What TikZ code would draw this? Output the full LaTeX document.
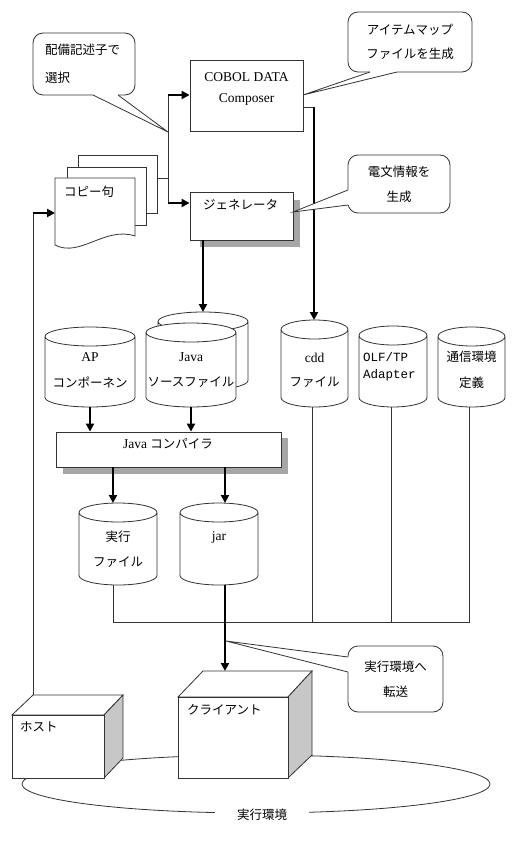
\documentclass[tikz,border=0pt]{standalone}
\usepackage{fontspec}
\setmainfont{Liberation Serif}
\newfontfamily\jp{Noto Sans CJK JP}
\newfontfamily\monof{Liberation Mono}
\usetikzlibrary{arrows.meta,calc}

\newcommand\cylshape[1]{%
  \draw[line, fill=white] let \p1=(#1.north west), \p2=(#1.south east), \n1={(\x2-\x1)/2} in
   (\x1,\y1-9.5pt) -- (\x1,\y2+9.5pt) arc[start angle=180, end angle=360, x radius={\n1*1pt}, y radius=9.5pt]
   -- (\x2,\y1-9.5pt) arc[start angle=0, end angle=180, x radius={\n1*1pt}, y radius=9.5pt] -- cycle
   (\x1,\y1-9.5pt) arc[start angle=180, end angle=360, x radius={\n1*1pt}, y radius=9.5pt];
}
\newcommand\calloutptr[4]{%
  \fill[white] ($#1+#4$) -- #1 -- #3 -- #2 -- ($#2+#4$) -- cycle;
  \draw[line] #1 -- #3 -- #2;
}

\begin{document}
\begin{tikzpicture}[x=1pt,y=-1pt,
  line/.style={line width=0.8pt, draw=black!80},
  thickarrow/.style={line width=2pt, draw=black, -{Triangle[length=8pt,width=8pt]}},
  box/.style={draw=black!80, line width=0.8pt, fill=white, inner sep=0pt},
  callout/.style={draw=black!80, line width=0.8pt, fill=white, rounded corners=10pt, inner sep=0pt},
  cylnode/.style={inner sep=0pt, outer sep=0pt},
  jtext/.style={font=\jp\fontsize{12.5}{25}\selectfont, inner sep=0pt, align=center},
  ltext/.style={font=\fontsize{13.5}{21}\selectfont, inner sep=0pt, align=center},
  mtext/.style={font=\monof\fontsize{12.5}{17}\selectfont, inner sep=0pt, align=left},
  shadowfill/.style={fill=black!35},
  sideface/.style={fill=black!22, draw=black!80, line width=0.8pt},
  topface/.style={fill=white, draw=black!80, line width=0.8pt}
]
\useasboundingbox (0,0) rectangle (527,850);

% ---------- execution environment ----------
\draw[line] (256,784) ellipse [x radius=234pt, y radius=29pt];
\node[jtext, fill=white, inner xsep=22pt, inner ysep=3pt] (env) at (262,815) {実行環境};

% host box
\draw[topface] (12,715) -- (33,695) -- (123,695) -- (104,715) -- cycle;
\draw[sideface] (104,715) -- (123,695) -- (123,758) -- (104,778) -- cycle;
\node[box, minimum width=92pt, minimum height=63pt] (host) at (58,746.5) {};
\node[jtext, anchor=west] (host-t) at (20,727) {ホスト};
\coordinate (hostTop) at (33,695);

% client box
\draw[topface] (178,697) -- (203,671) -- (312,671) -- (288,697) -- cycle;
\draw[sideface] (288,697) -- (312,671) -- (312,755) -- (288,778) -- cycle;
\node[box, minimum width=110pt, minimum height=81pt] (client) at (233,737.5) {};
\node[jtext, anchor=west] (client-t) at (187,710) {クライアント};
\coordinate (clientTop) at (225,671);

% ---------- copy document stack ----------
\node[box, minimum width=79pt, minimum height=58pt] (copyback) at (117.5,184) {};
\node[box, minimum width=79pt, minimum height=58pt] (copymid) at (106.5,196) {};
\draw[line, fill=white] (55,178) -- (135,178) -- (135,236) .. controls (105,226) and (80,258) .. (55,245) -- cycle;
\node[cylnode, minimum width=80pt, minimum height=67pt] (copy) at (95,211.5) {};
\node[jtext] (copy-t) at (89,192) {コピー句};

% ---------- COBOL DATA Composer ----------
\node[box, minimum width=113pt, minimum height=71pt] (cobol) at (246.5,95.5) {};
\node[ltext] (cobol-t) at (246.5,88.5) {COBOL DATA\\Composer};

% ---------- generator ----------
\fill[shadowfill] (200,200) rectangle (300,247);
\node[box, minimum width=103pt, minimum height=48pt] (gen) at (241.5,216) {};
\node[jtext, anchor=west] (gen-t) at (203,205) {ジェネレータ};

% ---------- cylinders ----------
\node[cylnode, minimum width=90pt, minimum height=80pt] (ap) at (90,367) {};
\cylshape{ap}
\node[ltext] (ap-1) at (90,357) {AP};
\node[jtext] (ap-2) at (90,382) {コンポーネン};

\node[cylnode, minimum width=90pt, minimum height=78pt] (javab) at (203,351) {};
\cylshape{javab}
\node[cylnode, minimum width=90pt, minimum height=84pt] (javaf) at (191,365) {};
\cylshape{javaf}
\node[ltext] (javaf-1) at (191,357) {Java};
\node[jtext] (javaf-2) at (191,382) {ソースファイル};

\node[cylnode, minimum width=67pt, minimum height=87pt] (cdd) at (314.5,363.5) {};
\cylshape{cdd}
\node[ltext] (cdd-1) at (314.5,358) {cdd};
\node[jtext] (cdd-2) at (314.5,382) {ファイル};

\node[cylnode, minimum width=68pt, minimum height=81pt] (olf) at (393,366.5) {};
\cylshape{olf}
\node[mtext, anchor=west] (olf-t) at (363,366.5) {OLF/TP\\Adapter};

\node[cylnode, minimum width=67pt, minimum height=80pt] (tsu) at (471.5,367) {};
\cylshape{tsu}
\node[jtext] (tsu-1) at (471.5,357) {通信環境};
\node[jtext] (tsu-2) at (471.5,383) {定義};

% ---------- Java compiler ----------
\fill[shadowfill] (63,438) rectangle (288,474);
\node[box, minimum width=225pt, minimum height=35pt] (comp) at (168.5,449.5) {};
\node[ltext] (comp-t) at (168,444) {Java {\jp\fontsize{12.5}{25}\selectfont コンパイラ}};

\node[cylnode, minimum width=78pt, minimum height=82pt] (jikkou) at (118,544) {};
\cylshape{jikkou}
\node[jtext] (jikkou-1) at (118,537) {実行};
\node[jtext] (jikkou-2) at (118,562) {ファイル};

\node[cylnode, minimum width=78pt, minimum height=82pt] (jar) at (219,544) {};
\cylshape{jar}
\node[ltext] (jar-t) at (219,537) {jar};

% ---------- connectors ----------
\coordinate (leftTurn) at (33,213);
\draw[line] (hostTop) -- (leftTurn);
\draw[thickarrow] (leftTurn) -- (leftTurn -| copy.west);

\coordinate (branch) at (168,178);
\coordinate (brTop) at (168,95);
\coordinate (brBot) at (168,203);
\draw[line] (copyback.east |- branch) -- (branch);
\draw[line] (brTop) -- (brBot);
\draw[thickarrow] (brTop) -- (brTop -| cobol.west);
\draw[thickarrow] (brBot) -- (brBot -| gen.west);

\coordinate (cobolOut) at (314,107);
\draw[line] (cobolOut -| cobol.east) -- (cobolOut);
\draw[thickarrow] (cobolOut) -- (cobolOut |- cdd.north);

\draw[thickarrow] (javab.north |- gen.south) -- (javab.north);
\draw[thickarrow] (ap.south) -- (ap.south |- comp.north);
\draw[thickarrow] (javaf.south) -- (javaf.south |- comp.north);
\draw[thickarrow] ([xshift=-5pt]jikkou.north |- comp.south) -- ([xshift=-5pt]jikkou.north);
\draw[thickarrow] ([xshift=6pt]jar.north |- comp.south) -- ([xshift=6pt]jar.north);

\coordinate (busR) at (469,622);
\draw[line] ([xshift=-5pt]jikkou.south) |- (busR) -- (busR |- tsu.south);
\draw[line] ([xshift=-2pt]cdd.south) -- ([xshift=-2pt]cdd.south |- busR);
\draw[line] ([xshift=-2pt]olf.south) -- ([xshift=-2pt]olf.south |- busR);
\draw[thickarrow] ([xshift=6pt]jar.south) -- (clientTop);

% ---------- callouts ----------
\node[callout, minimum width=102pt, minimum height=62pt, text width=78pt,
      font=\jp\fontsize{12.5}{28}\selectfont, align=left] (c1) at (84,64) {配備記述子で\\選択};
\calloutptr{(93,95)}{(118,95)}{(168,132)}{(0,-1.5)}

\node[callout, minimum width=124pt, minimum height=60pt,
      font=\jp\fontsize{12.5}{24}\selectfont, align=center] (c2) at (410,42) {アイテムマップ\\ファイルを生成};
\calloutptr{(370,72)}{(397,72)}{(303,95)}{(0,-1.5)}

\node[callout, minimum width=102pt, minimum height=58pt,
      font=\jp\fontsize{12.5}{25}\selectfont, align=center] (c3) at (399,184) {電文情報を\\生成};
\calloutptr{(348,190)}{(348,205)}{(293,212)}{(1.5,0)}

\node[callout, minimum width=95pt, minimum height=66pt,
      font=\jp\fontsize{12.5}{25}\selectfont, align=center] (c4) at (395.5,679) {実行環境へ\\転送};
\calloutptr{(348,657)}{(348,672)}{(226,641)}{(1.5,0)}

\end{tikzpicture}
\end{document}
